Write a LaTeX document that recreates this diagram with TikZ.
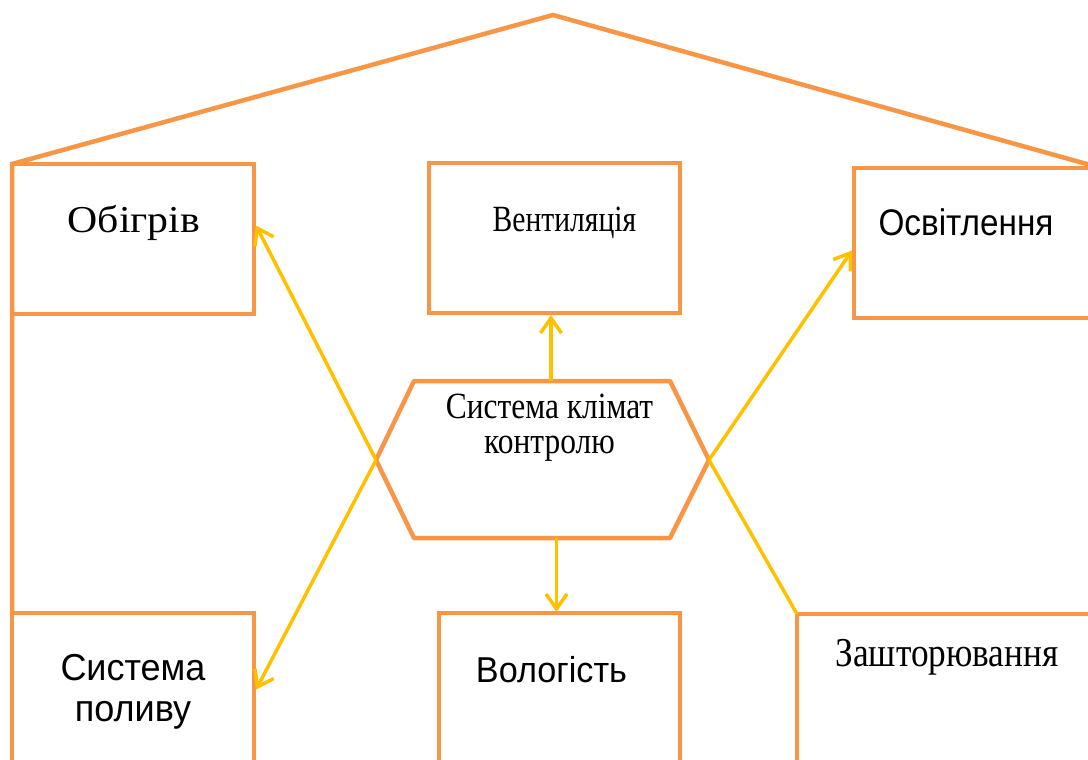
\documentclass[tikz,border=0pt]{standalone}
\usepackage{fontspec}
\setmainfont{Liberation Serif}
\newfontfamily\arialf{Liberation Sans}
\usetikzlibrary{arrows.meta,calc}
\definecolor{orng}{HTML}{F79646}
\definecolor{yel}{HTML}{FFC000}
\begin{document}
\begin{tikzpicture}[x=1pt,y=-1pt,
  box/.style={draw=orng, line width=4.5pt, rectangle, inner sep=0pt, outer sep=0pt},
  wall/.style={draw=orng, line width=4.5pt, line join=miter},
  conn/.style={draw=yel, line width=3.5pt, -{Straight Barb[length=15pt,width=21pt]}},
  link/.style={draw=yel, line width=3.5pt},
  lbl/.style={anchor=base, inner sep=0pt, outer sep=0pt, text=black}]
\useasboundingbox (0,0) rectangle (1088,760);
\clip (0,0) rectangle (1088,760);
% boxes
\node[box, minimum width=242pt, minimum height=150pt] (obigriv) at (133,239) {};
\node[box, minimum width=251pt, minimum height=150pt] (vent) at (554.5,238) {};
\node[box, minimum width=246pt, minimum height=150pt] (osvit) at (977,243) {};
\node[box, minimum width=242pt, minimum height=187pt] (poliv) at (133,706.5) {};
\node[box, minimum width=241pt, minimum height=187pt] (volog) at (559.5,706.5) {};
\node[box, minimum width=303pt, minimum height=186pt] (zasht) at (948.5,707) {};
% house outline
\coordinate (apex) at (553,15);
\coordinate (roofR) at (1094,166);
\draw[wall] (poliv.north west) -- (obigriv.north west) -- (apex) -- (roofR);
% hexagon
\coordinate (hTL) at (414,381);
\coordinate (hTR) at (670,381);
\coordinate (hR) at (709,460);
\coordinate (hBR) at (670,538);
\coordinate (hBL) at (414,538);
\coordinate (hL) at (376,460);
\draw[wall, line join=round] (hTL) -- (hTR) -- (hR) -- (hBR) -- (hBL) -- (hL) -- cycle;
% labels
\node[lbl, font=\fontsize{38}{38}\selectfont] (tobigriv) at (134,232) {\scalebox{1.1}[1]{Обігрів}};
\node[lbl, font=\fontsize{37}{37}\selectfont] (tvent) at (564.5,231) {\scalebox{0.8}[1]{Вентиляція}};
\node[lbl, font=\arialf\fontsize{37}{37}\selectfont] (tosvit) at (966,235) {\scalebox{0.9}[1]{Освітлення}};
\node[lbl, font=\fontsize{37}{35}\selectfont] (thex) at (549.5,418) {\scalebox{0.85}[1]{\begin{tabular}[t]{@{}c@{}}Система клімат\\контролю\end{tabular}}};
\node[lbl, font=\arialf\fontsize{37.5}{41}\selectfont] (tpoliv) at (133,680) {\scalebox{0.96}[1]{\begin{tabular}[t]{@{}c@{}}Система\\поливу\end{tabular}}};
\node[lbl, font=\arialf\fontsize{36}{36}\selectfont] (tvolog) at (551.5,682) {\scalebox{0.95}[1]{Вологість}};
\node[lbl, font=\fontsize{41}{41}\selectfont] (tzasht) at (947,666) {\scalebox{0.86}[1]{Зашторювання}};
% connectors
\coordinate (ventIn) at ($(vent.south west)!0.486!(vent.south east)+(0,2)$);
\coordinate (volIn) at ($(volog.north)+(-3,-1)$);
\draw[conn] (ventIn |- hTL) -- (ventIn);
\draw[conn] (volIn |- hBL) -- (volIn);
\draw[conn] (hL) -- ($(obigriv.north east)!0.41!(obigriv.south east)+(2,0)$);
\draw[conn] (hL) -- ($(poliv.north east)!0.41!(poliv.south east)+(2,0)$);
\draw[conn] (hR) -- ($(osvit.north west)!0.55!(osvit.south west)+(-2,0)$);
\draw[link] (hR) -- (zasht.north west);
\end{tikzpicture}
\end{document}
